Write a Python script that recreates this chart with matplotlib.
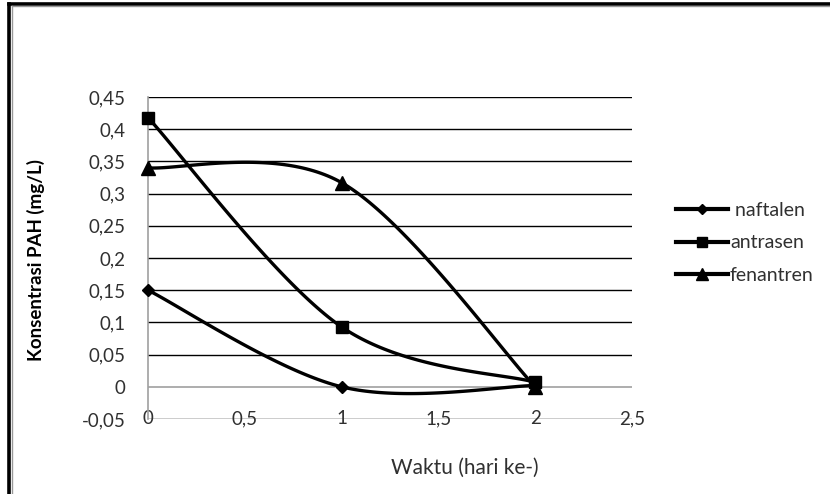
import numpy as np
import matplotlib
matplotlib.use("Agg")
import matplotlib.pyplot as plt
from matplotlib.lines import Line2D

plt.rcParams['font.family'] = ['Lato', 'DejaVu Sans']

# data
hari = [0, 1, 2]
naftalen = [0.15, 0.0, 0.002]
antrasen = [0.418, 0.093, 0.007]
fenantren = [0.34, 0.317, 0.0]

series_names = [" naftalen", "antrasen", "fenantren"]
markers = ["D", "s", "^"]
msizes = [6, 8.5, 9.5]

y_ticks = np.arange(-0.05, 0.451, 0.05)
x_ticks = [0, 0.5, 1, 1.5, 2, 2.5]

txt_col = "#303030"


def smooth(x, y, n=60):
    # Excel-style smoothed line: bezier with catmull-rom control points
    p = np.column_stack([x, y]).astype(float)
    out = []
    for i in range(len(p) - 1):
        p0 = p[i - 1] if i > 0 else p[i]
        p1 = p[i]
        p2 = p[i + 1]
        p3 = p[i + 2] if i + 2 < len(p) else p[i + 1]
        c1 = p1 + (p2 - p0) / 6
        c2 = p2 - (p3 - p1) / 6
        t = np.linspace(0, 1, n)[:, None]
        seg = (1 - t)**3 * p1 + 3 * (1 - t)**2 * t * c1 + 3 * (1 - t) * t**2 * c2 + t**3 * p2
        out.append(seg)
    out = np.vstack(out)
    return out[:, 0], out[:, 1]


def fmt(v):
    s = ("%.2f" % v).rstrip("0").rstrip(".")
    if s == "-0":
        s = "0"
    return s.replace(".", ",")


fig = plt.figure(figsize=(8.3, 4.94), dpi=100)
ax = fig.add_axes([148 / 830, 1 - 419 / 494, (632 - 148) / 830, (419 - 97) / 494])

for yv in y_ticks:
    if abs(yv) < 1e-9:
        ax.axhline(0, color="#a0a0a0", lw=1.2, zorder=1)
    else:
        ax.axhline(yv, color="black", lw=1.0, zorder=1)

for data, m, ms in zip([naftalen, antrasen, fenantren], markers, msizes):
    xs, ys = smooth(hari, data)
    ax.plot(xs, ys, color="black", lw=2.4, zorder=3, clip_on=False)
    ax.plot(hari, data, linestyle="none", marker=m, ms=ms, color="black",
            zorder=4, clip_on=False)

ax.set_xlim(0, 2.5)
ax.set_ylim(-0.05, 0.45)
ax.set_xticks(x_ticks)
ax.set_xticklabels([fmt(v) for v in x_ticks])
ax.set_yticks(y_ticks)
ax.set_yticklabels([fmt(v) for v in y_ticks])
ax.tick_params(axis="x", length=0, pad=0, labelsize=13.5, colors=txt_col)
ax.tick_params(axis="y", length=0, pad=16, labelsize=13.5, colors=txt_col)
for lab in ax.get_xticklabels():
    lab.set_va("center")

for s in ["top", "right", "bottom"]:
    ax.spines[s].set_visible(False)
ax.spines["left"].set_color("#a0a0a0")
ax.spines["left"].set_linewidth(1.2)

ax.set_ylabel("Konsentrasi PAH (mg/L)", fontsize=13.5, fontweight="bold", color="black")
ax.yaxis.set_label_coords((45 - 148) / 484, (419 - 260) / 322)
fig.text(465 / 830, 1 - 468 / 494, "Waktu (hari ke-)", fontsize=15,
         ha="center", va="center", color=txt_col)

handles = [Line2D([0], [0], color="black", lw=3, marker=m, ms=ms * 0.85)
           for m, ms in zip(markers, msizes)]
ax.legend(handles, series_names, loc="center left", bbox_to_anchor=(658 / 830, 1 - 243 / 494),
          bbox_transform=fig.transFigure, frameon=False, fontsize=14, handlelength=2.7,
          handletextpad=0.1, labelspacing=0.8, labelcolor=txt_col)

# chart border
fig.add_artist(Line2D([9 / 830, 9 / 830], [0, 1 - 4 / 494], color="black", lw=2.6))
fig.add_artist(Line2D([9 / 830, 1], [1 - 4 / 494, 1 - 4 / 494], color="black", lw=2.6))
fig.add_artist(Line2D([11.5 / 830, 11.5 / 830], [0, 1 - 6 / 494], color="#999999", lw=1))
fig.add_artist(Line2D([11.5 / 830, 1], [1 - 6.5 / 494, 1 - 6.5 / 494], color="#999999", lw=1))

fig.savefig("out.png", dpi=100)
